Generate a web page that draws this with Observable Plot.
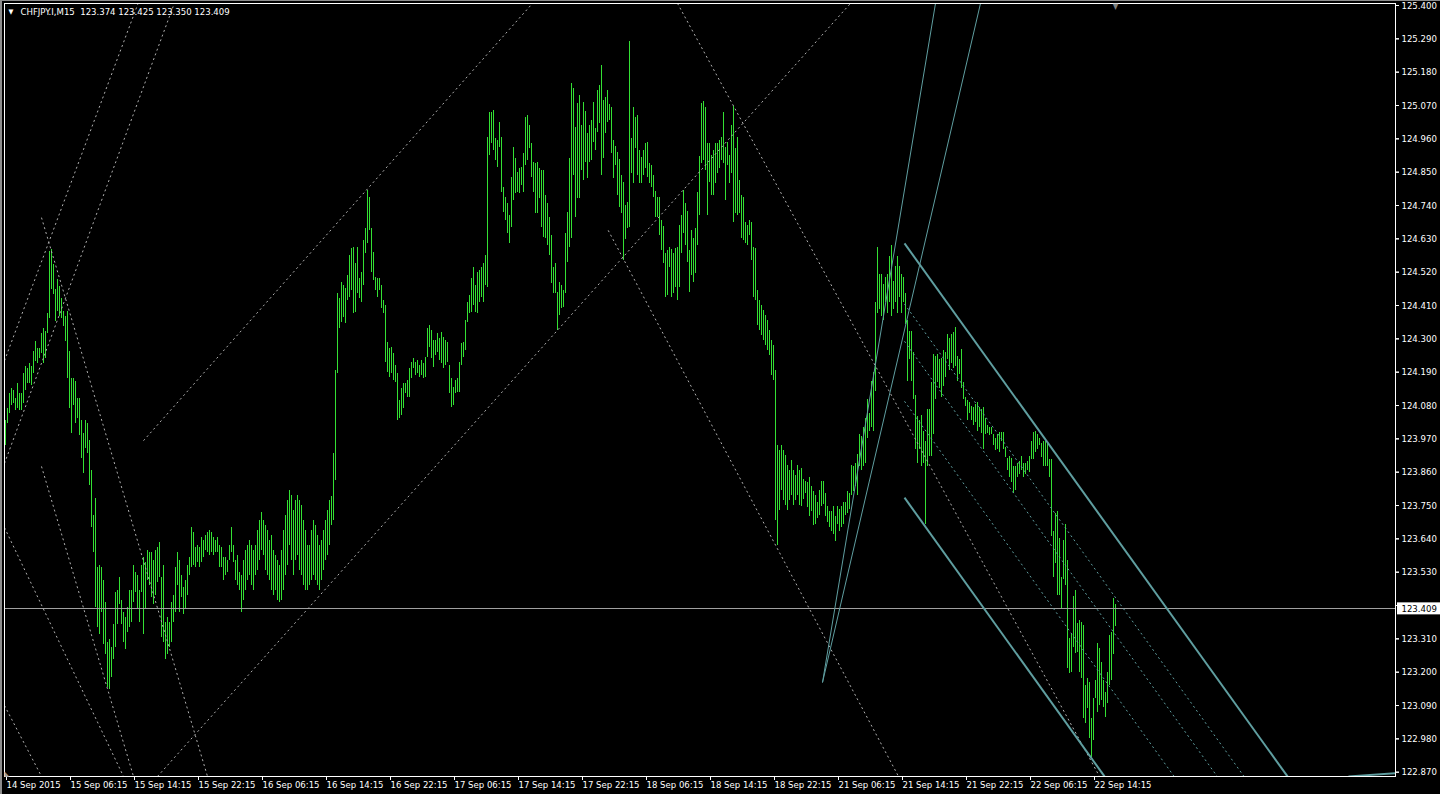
<!DOCTYPE html>
<html><head><meta charset="utf-8">
<script src="https://cdn.jsdelivr.net/npm/d3@7"></script>
<script src="https://cdn.jsdelivr.net/npm/@observablehq/plot@0.6"></script>
<style>
html,body{margin:0;padding:0;background:#000;overflow:hidden;}
#chart{position:absolute;left:0;top:0;}
#edgeL{position:absolute;left:0;top:0;width:2px;height:794px;background:#8c8c8c;}
#edgeT{position:absolute;left:0;top:0;width:1440px;height:1px;background:#8c8c8c;}
</style></head><body><div id="chart"></div><div id="edgeL"></div><div id="edgeT"></div>
<script>
// ---- data (CHFJPY.I, M15 bars, high / low per bar) ----
const symbolTitle = "CHFJPY.I,M15\u00a0\u00a0123.374 123.425 123.350 123.409";
const lastClose = 123.409;
const high = [
124.031,124.070,124.120,124.136,124.130,124.103,124.153,124.120,124.120,124.186,
124.209,124.202,124.219,124.209,124.258,124.291,124.268,124.268,124.318,124.334,
124.324,124.384,124.588,124.595,124.545,124.463,124.496,124.473,124.433,124.390,
124.374,124.390,124.258,124.169,124.169,124.159,124.103,124.103,124.031,123.988,
124.031,124.021,123.965,123.866,123.717,123.773,123.545,123.552,123.545,123.503,
123.430,123.298,123.308,123.281,123.357,123.463,123.470,123.512,123.437,123.397,
123.380,123.413,123.470,123.470,123.552,123.529,123.519,123.470,123.552,123.578,
123.562,123.602,123.595,123.595,123.569,123.602,123.611,123.628,123.512,123.552,
123.364,123.380,123.364,123.430,123.453,123.545,123.595,123.569,123.519,123.479,
123.503,123.552,123.578,123.677,123.661,123.611,123.618,123.611,123.644,123.635,
123.651,123.661,123.668,123.661,123.644,123.635,123.644,123.618,123.611,123.578,
123.578,123.569,123.618,123.677,123.618,123.569,123.585,123.529,
123.519,123.569,123.602,123.618,123.635,123.618,123.602,123.618,123.668,123.701,
123.727,123.701,123.684,123.668,123.635,123.651,123.602,123.585,123.569,123.552,
123.602,123.668,123.717,123.767,123.800,123.783,123.734,123.767,123.783,123.767,
123.750,123.701,123.668,123.618,123.618,123.668,123.701,123.684,123.651,123.618,
123.635,123.668,123.701,123.734,123.767,123.780,123.922,124.196,
124.450,124.433,124.486,124.476,124.466,124.509,124.575,124.598,124.601,124.549,
124.601,124.499,124.519,124.625,124.664,124.790,124.766,124.664,124.585,124.502,
124.499,124.499,124.476,124.427,124.410,124.288,124.268,124.271,124.252,124.212,
124.186,124.097,124.136,124.153,124.153,124.163,124.202,124.222,124.235,124.222,
124.229,124.212,124.229,124.219,124.238,124.334,124.344,124.328,124.295,124.295,
124.318,124.301,124.321,124.304,124.295,124.288,124.212,124.169,124.139,124.163,
124.169,124.222,124.285,124.288,124.361,124.420,124.443,124.499,124.535,124.476,
124.519,124.526,124.535,124.549,124.575,124.964,125.047,125.047,125.054,124.961,
124.955,125.014,124.964,124.799,124.766,124.747,124.707,124.832,124.931,124.895,
124.849,124.862,124.865,124.912,125.030,125.037,125.004,124.945,124.882,124.879,
124.882,124.862,124.856,124.856,124.773,124.747,124.700,124.641,124.535,124.549,
124.453,124.486,124.476,124.460,124.648,124.717,124.895,125.143,125.126,124.997,
125.077,125.103,125.004,125.080,125.050,124.978,125.004,125.021,125.080,124.994,
125.120,125.136,125.202,125.087,125.096,125.120,125.073,125.063,124.955,124.935,
124.915,124.892,124.839,124.816,124.740,124.750,125.281,124.961,125.063,125.030,
125.037,124.922,124.898,124.922,124.945,124.948,124.879,124.872,124.839,124.786,
124.766,124.766,124.691,124.671,124.582,124.592,124.601,124.595,124.582,124.598,
124.601,124.674,124.707,124.790,124.747,124.720,124.592,124.658,124.631,124.664,
124.783,124.902,125.077,125.083,125.063,124.945,124.945,124.905,124.922,124.945,
124.945,124.955,124.964,125.047,124.931,124.948,124.905,125.004,125.067,124.928,
124.964,124.823,124.773,124.766,124.684,124.674,124.691,124.684,124.601,124.598,
124.460,124.427,124.410,124.394,124.377,124.361,124.328,124.295,124.278,124.196,
123.948,123.932,123.948,123.932,123.915,123.882,123.866,123.899,123.866,123.849,
123.882,123.866,123.872,123.836,123.829,123.826,123.842,123.813,123.796,123.783,
123.760,123.800,123.829,123.829,123.790,123.747,123.730,123.730,123.747,123.714,
123.747,123.737,123.747,123.760,123.760,123.796,123.790,123.882,123.879,123.889,
123.918,123.984,123.978,124.007,124.037,124.100,124.054,124.159,124.189,124.420,
124.601,124.512,124.512,124.479,124.502,124.512,124.572,124.608,124.489,124.539,
124.572,124.539,124.512,124.502,124.450,124.361,124.324,124.324,124.255,124.113,
124.044,124.031,124.047,123.994,123.961,124.067,124.067,124.156,124.248,124.242,
124.248,124.232,124.235,124.262,124.255,124.314,124.301,124.314,124.321,124.337,
124.242,124.232,124.265,124.156,124.106,124.097,124.090,124.077,124.073,124.083,
124.090,124.073,124.067,124.073,124.037,124.014,124.007,124.007,123.984,123.971,
123.984,123.991,123.991,123.991,123.942,123.905,123.912,123.905,123.879,123.879,
123.889,123.895,123.912,123.889,123.889,123.895,123.912,123.961,123.991,123.994,
123.984,123.971,123.955,123.961,123.961,123.955,123.902,123.902,123.664,123.724,
123.730,123.641,123.512,123.635,123.687,123.568,123.311,123.328,123.450,123.470,
123.361,123.371,123.364,123.354,123.156,123.179,123.166,123.047,123.113,123.172,
123.295,123.278,123.232,123.172,123.133,123.199,123.321,123.331,123.443,123.425
];
const low = [
123.948,124.021,124.054,124.080,124.087,124.064,124.070,124.064,124.064,124.087,
124.130,124.153,124.153,124.146,124.186,124.225,124.219,124.235,124.252,124.219,
124.235,124.318,124.367,124.463,124.446,124.357,124.390,124.374,124.367,124.341,
124.291,124.169,124.070,123.988,124.080,124.021,124.037,123.981,123.905,123.856,
123.938,123.922,123.816,123.677,123.595,123.413,123.347,123.324,123.397,123.291,
123.258,123.149,123.143,123.182,123.242,123.281,123.357,123.423,123.357,123.298,
123.275,123.331,123.347,123.364,123.430,123.463,123.407,123.364,123.463,123.324,
123.407,123.503,123.486,123.446,123.423,123.453,123.496,123.512,123.314,123.298,
123.242,123.258,123.281,123.298,123.364,123.397,123.486,123.397,123.446,123.390,
123.407,123.453,123.519,123.545,123.552,123.545,123.562,123.545,123.562,123.578,
123.602,123.595,123.585,123.595,123.585,123.595,123.595,123.545,123.545,123.503,
123.519,123.529,123.569,123.595,123.562,123.503,123.486,123.470,
123.397,123.437,123.470,123.503,123.519,123.486,123.470,123.519,123.535,123.569,
123.602,123.585,123.535,123.519,123.503,123.470,123.453,123.470,123.437,123.430,
123.437,123.470,123.519,123.552,123.618,123.569,123.519,123.569,123.585,123.535,
123.519,123.486,123.470,123.470,123.486,123.503,123.519,123.503,123.486,123.470,
123.503,123.535,123.569,123.585,123.618,123.684,123.701,123.833,
124.186,124.334,124.354,124.370,124.351,124.427,124.436,124.460,124.384,124.387,
124.450,124.433,124.420,124.476,124.582,124.615,124.658,124.519,124.493,124.460,
124.436,124.460,124.400,124.384,124.222,124.189,124.172,124.186,124.163,124.156,
124.031,124.037,124.047,124.070,124.120,124.106,124.106,124.169,124.202,124.179,
124.186,124.172,124.179,124.169,124.172,124.238,124.271,124.235,124.205,124.245,
124.255,124.229,124.219,124.202,124.212,124.222,124.120,124.073,124.080,124.120,
124.123,124.123,124.212,124.238,124.262,124.354,124.384,124.387,124.410,124.387,
124.384,124.420,124.436,124.420,124.476,124.469,124.905,124.945,124.922,124.889,
124.865,124.931,124.783,124.717,124.691,124.648,124.615,124.667,124.757,124.780,
124.783,124.780,124.806,124.783,124.872,124.889,124.928,124.832,124.783,124.714,
124.714,124.763,124.667,124.634,124.631,124.608,124.575,124.483,124.450,124.450,
124.328,124.377,124.400,124.403,124.450,124.552,124.601,124.631,124.839,124.700,
124.763,124.763,124.856,124.823,124.882,124.829,124.882,124.889,124.948,124.922,
124.981,125.011,124.839,124.895,124.978,125.014,125.021,124.912,124.829,124.872,
124.773,124.733,124.714,124.559,124.628,124.664,124.667,124.846,124.813,124.928,
124.839,124.813,124.813,124.839,124.862,124.832,124.813,124.799,124.766,124.700,
124.700,124.641,124.592,124.549,124.436,124.443,124.535,124.436,124.450,124.469,
124.427,124.469,124.582,124.648,124.608,124.552,124.453,124.509,124.486,124.516,
124.608,124.707,124.879,124.889,124.856,124.707,124.816,124.773,124.773,124.813,
124.846,124.862,124.889,124.879,124.757,124.872,124.813,124.846,124.684,124.714,
124.707,124.714,124.631,124.625,124.615,124.608,124.641,124.559,124.436,124.427,
124.344,124.328,124.311,124.295,124.278,124.262,124.245,124.179,124.163,123.701,
123.618,123.734,123.800,123.767,123.750,123.734,123.767,123.783,123.750,123.767,
123.783,123.750,123.747,123.770,123.790,123.743,123.714,123.730,123.684,123.687,
123.707,123.717,123.747,123.753,123.714,123.694,123.677,123.664,123.654,123.631,
123.687,123.664,123.677,123.687,123.717,123.724,123.737,123.783,123.796,123.813,
123.783,123.879,123.866,123.879,123.889,123.971,123.994,124.007,123.994,124.126,
124.384,124.397,124.374,124.361,124.420,124.384,124.420,124.374,124.397,124.420,
124.384,124.436,124.384,124.420,124.347,124.159,124.232,124.159,124.100,123.935,
123.889,123.935,123.879,123.889,123.687,123.879,123.912,123.912,123.984,124.100,
124.156,124.136,124.106,124.143,124.172,124.232,124.196,124.219,124.202,124.209,
124.159,124.182,124.136,124.100,124.077,124.031,124.054,124.031,124.014,124.024,
123.994,124.007,123.988,123.935,123.984,123.988,123.981,123.984,123.948,123.932,
123.935,123.925,123.961,123.935,123.908,123.866,123.842,123.826,123.790,123.800,
123.842,123.852,123.866,123.842,123.852,123.866,123.859,123.902,123.902,123.925,
123.935,123.948,123.908,123.879,123.879,123.879,123.842,123.648,123.512,123.559,
123.453,123.453,123.407,123.506,123.486,123.212,123.196,123.199,123.281,123.262,
123.265,123.199,123.179,123.047,123.031,123.080,122.981,122.918,122.975,123.113,
123.067,123.090,123.106,123.083,123.050,123.097,123.156,123.172,123.258,123.350
];
// time axis: bar index of each label, and label text
const xTickBars = [0,32,64,96,128,160,192,224,256,288,320,352,384,416,448,480,512,544];
const xTickLabels = ["14 Sep 2015","15 Sep 06:15","15 Sep 14:15","15 Sep 22:15","16 Sep 06:15","16 Sep 14:15","16 Sep 22:15","17 Sep 06:15","17 Sep 14:15","17 Sep 22:15","18 Sep 06:15","18 Sep 14:15","18 Sep 22:15","21 Sep 06:15","21 Sep 14:15","21 Sep 22:15","22 Sep 06:15","22 Sep 14:15"];
// price axis ticks (the 123.420 label sits under the current-price box)
const yTicks = [125.400,125.290,125.180,125.070,124.960,124.850,124.740,124.630,124.520,124.410,124.300,124.190,124.080,123.970,123.860,123.750,123.640,123.530,123.420,123.310,123.200,123.090,122.980,122.870];
const hiddenTickLabel = 123.420;
// drawn objects: [barIndex1, price1, barIndex2, price2]
const grayDotLines = [
  [-0.5,124.228, 66.3,125.407],
  [-0.5,123.889, 84.4,125.407],
  [18,124.700, 101,122.856],
  [18,123.879, 64,122.856],
  [-0.5,123.677, 59,122.856],
  [-0.5,123.090, 18,122.856],
  [69,123.964, 263.5,125.407],
  [76,122.856, 422.5,125.407],
  [336,125.407, 547,122.856],
  [301.35,124.658, 446.5,122.856]
];
const tealThinLines = [
  [408.5,123.166, 465,125.407],
  [408.5,123.166, 487.5,125.407]
];
const tealChannel = [
  [449.5,124.615, 641,122.856],
  [449.5,123.776, 549.5,122.856],
  [671.5,122.856, 695,122.867]
];
const tealFiboLevels = [
  [449.5,124.415, 619.25,122.856],
  [449.5,124.292, 605.85,122.856],
  [449.5,124.094, 584.3,122.856]
];

// ---- chart ----
const FONT = '"DejaVu Sans Condensed","DejaVu Sans",sans-serif';
const FS = "9.5px";
const BAR = "#33e033", TEAL = "#5f9ea0", GRAY = "#b0b0b0";
const X_MAX = 695;                 // last slot of the time scale (chart shift space included)
const BOX_HALF = 6 / 303;          // half height of the price box, in price units (6 px)
const bars = high.map((h, i) => ({i, high: h, low: low[i]}));
const labelOf = new Map(xTickBars.map((b, k) => [b, xTickLabels[k]]));
const L = {x1: d => d[0], y1: d => d[1], x2: d => d[2], y2: d => d[3], clip: true};

const chart = Plot.plot({
  width: 1440, height: 794,
  marginTop: 3, marginRight: 45, marginBottom: 18, marginLeft: 4,
  style: {background: "#000", color: "#fff", fontFamily: FONT, fontSize: FS, fontStretch: "condensed"},
  x: {domain: [-0.5, X_MAX]},
  y: {domain: [122.8558, 125.4066]},
  marks: [
    Plot.ruleX(bars, {x: "i", y1: "low", y2: "high", stroke: BAR, shapeRendering: "crispEdges"}),
    Plot.ruleY([lastClose], {stroke: "#a0a0a0", shapeRendering: "crispEdges"}),
    Plot.link(grayDotLines, {...L, stroke: GRAY, strokeDasharray: "2,3"}),
    Plot.link(tealFiboLevels, {...L, stroke: TEAL, strokeDasharray: "2,3"}),
    Plot.link(tealThinLines, {...L, stroke: TEAL, strokeWidth: 1}),
    Plot.link(tealChannel, {...L, stroke: TEAL, strokeWidth: 2}),
    Plot.frame({stroke: "#fff", shapeRendering: "crispEdges"}),
    Plot.axisY({anchor: "right", ticks: yTicks, text: null, tickSize: 3, label: null}),
    Plot.axisY({anchor: "right", ticks: yTicks.filter(v => v !== hiddenTickLabel), tick: null, tickFormat: d => d.toFixed(3), tickSize: 3, tickPadding: 3, label: null}),
    Plot.axisX({ticks: xTickBars, tickFormat: d => labelOf.get(d), tickSize: 4, tickPadding: 1, textAnchor: "start", dx: 1, label: null}),
    // current price box on the price axis
    Plot.rect([lastClose], {x1: () => X_MAX + 1, x2: () => X_MAX + 22.5, y1: d => d - BOX_HALF, y2: d => d + BOX_HALF, fill: "#ffffff"}),
    Plot.text([lastClose], {x: () => X_MAX + 3, y: d => d, text: d => d.toFixed(3), textAnchor: "start", lineAnchor: "middle", fill: "#000000"}),
    // symbol line (top-left), chart-shift marker (top) and scroll marker (bottom-left)
    Plot.text([symbolTitle], {frameAnchor: "top-left", dx: 16, dy: 8, textAnchor: "start", lineAnchor: "middle", fill: "#fff"}),
    Plot.text(["\u25BC"], {frameAnchor: "top-left", dx: 4, dy: 8, textAnchor: "start", lineAnchor: "middle", fill: "#fff", fontSize: 7}),
    Plot.text([high.length - 1], {x: d => d, frameAnchor: "top", text: () => "\u25BC", dy: 3, lineAnchor: "middle", fill: "#808080", fontSize: 8}),
    Plot.text(["\u25E3"], {frameAnchor: "bottom-left", dx: 0, dy: -3, textAnchor: "start", lineAnchor: "middle", fill: "#9a9a9a", fontSize: 7})
  ]
});
document.getElementById("chart").appendChild(chart);
</script></body></html>
